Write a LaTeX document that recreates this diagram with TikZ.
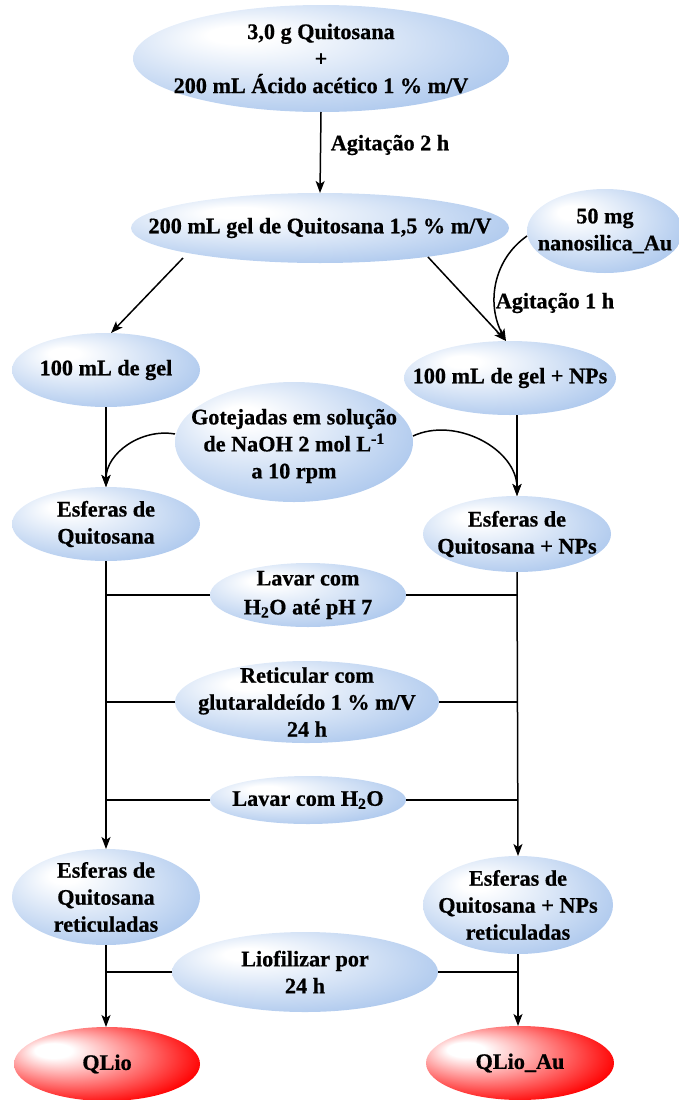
\documentclass[tikz,border=0pt]{standalone}
\usepackage{fontspec}
\setmainfont{Liberation Serif}[BoldFeatures={FakeBold=0.6}]
\usetikzlibrary{shapes.geometric,arrows.meta,calc}
\definecolor{bluec}{RGB}{140,178,230}
\definecolor{redc}{RGB}{255,0,0}
\pgfdeclareradialshading{blueball}{\pgfpoint{-12bp}{12bp}}{color(0bp)=(white); color(4bp)=(white); color(36bp)=(bluec!80!white); color(50bp)=(bluec)}
\pgfdeclareradialshading{redball}{\pgfpoint{-16bp}{10bp}}{color(0bp)=(white); color(5bp)=(white); color(32bp)=(redc); color(50bp)=(redc)}
\tikzset{
  ell/.style 2 args={ellipse, inner sep=0pt, outer sep=0pt, minimum width=#1pt, minimum height=#2pt, shading=blueball},
  rell/.style 2 args={ellipse, inner sep=0pt, outer sep=0pt, minimum width=#1pt, minimum height=#2pt, shading=redball},
  txt/.style={align=center, inner sep=0pt, font=\fontsize{22.2}{27}\selectfont\bfseries},
  conn/.style={line width=1.5pt},
  arr/.style={line width=1.5pt, -{Stealth[length=12pt,width=9pt,inset=3pt]}}
}
\begin{document}
\begin{tikzpicture}[x=1pt,y=1pt]
\useasboundingbox (0,0) rectangle (678,-1100);
% ellipses
\node[ell={376}{107}] (top) at (321,-58.5) {};
\node[txt] (topt) at (top) {3,0 g Quitosana\\+\\200 mL Ácido acético 1 \% m/V};
\node[ell={378}{70}] (gel) at (320,-228) {};
\node[txt] (gelt) at (gel) {200 mL gel de Quitosana 1,5 \% m/V};
\node[ell={156}{84}] (nano) at (605,-231) {};
\node[txt] (nanot) at (nano) {50 mg\\nanosilica\_Au};
\node[ell={188}{74}] (g100) at (106,-370) {};
\node[txt] (g100t) at (g100) {100 mL de gel};
\node[ell={212}{74}] (g100np) at (510,-378) {};
\node[txt] (g100npt) at (g100np) {100 mL de gel + NPs};
\node[ell={238}{120}] (got) at (294,-442) {};
\node[txt] (gott) at ([yshift=-4pt]got.center) {Gotejadas em solução\\de NaOH 2 mol L\textsuperscript{-1}\\a 10 rpm};
\node[ell={188}{74}] (esfL) at (106,-524) {};
\node[txt] (esfLt) at (esfL) {Esferas de\\Quitosana};
\node[ell={188}{76}] (esfR) at (517,-534) {};
\node[txt] (esfRt) at (esfR) {Esferas de\\Quitosana + NPs};
\node[ell={196}{64}] (lav1) at (308,-595) {};
\node[txt] (lav1t) at (lav1) {Lavar com\\[2pt]H\textsubscript{2}O até pH 7};
\node[ell={264}{82}] (ret) at (307,-702) {};
\node[txt] (rett) at (ret) {Reticular com\\glutaraldeído 1 \% m/V\\24 h};
\node[ell={196}{48}] (lav2) at (308,-800) {};
\node[txt] (lav2t) at (lav2) {Lavar com H\textsubscript{2}O};
\node[ell={188}{96}] (retL) at (106,-897) {};
\node[txt] (retLt) at (retL) {Esferas de\\Quitosana\\reticuladas};
\node[ell={190}{98}] (retR) at (518,-905) {};
\node[txt] (retRt) at (retR) {Esferas de\\Quitosana + NPs\\reticuladas};
\node[ell={266}{80}] (lio) at (305,-972) {};
\node[txt] (liot) at (lio) {Liofilizar por\\24 h};
\node[rell={186}{74}] (qlio) at (107,-1064) {};
\node[txt] (qliot) at (qlio) {QLio};
\node[rell={188}{74}] (qlioau) at (520,-1063) {};
\node[txt] (qlioaut) at (qlioau) {QLio\_Au};
% labels
\node[txt] (ag2) at (390,-145) {Agitação 2 h};
\node[txt] (ag1) at (555,-303) {Agitação 1 h};
% connectors
\draw[arr] (top.south) -- (gel.north);
\draw[arr] ([xshift=-137pt,yshift=5pt]gel.south) -- ([xshift=5pt]g100.north);
\draw[arr] ([xshift=108pt,yshift=6pt]gel.south) -- ([xshift=-4pt]g100np.north);
\draw[arr] ([yshift=-5pt]nano.west) to[out=215, in=118] ([xshift=-4pt]g100np.north);
\draw[arr] (g100.south) -- (esfL.north);
\draw[arr] ([yshift=8pt]got.west) to[out=170, in=90] (esfL.north);
\draw[arr] (g100np.south -| esfR.north) -- (esfR.north);
\draw[arr] ([yshift=6pt]got.east) to[out=25, in=90] (esfR.north);
\draw[arr] (esfL.south) -- (retL.north);
\draw[arr] (esfR.south) -- (retR.north);
\draw[conn] (lav1.west) -- (lav1.west -| esfL.south);
\draw[conn] (lav1.east) -- (lav1.east -| esfR.south);
\draw[conn] (ret.west) -- (ret.west -| esfL.south);
\draw[conn] (ret.east) -- (ret.east -| esfR.south);
\draw[conn] (lav2.west) -- (lav2.west -| esfL.south);
\draw[conn] (lav2.east) -- (lav2.east -| esfR.south);
\draw[arr] (retL.south) -- (retL.south |- qlio.north);
\draw[arr] (retR.south) -- (retR.south |- qlioau.north);
\draw[conn] (lio.west) -- (lio.west -| retL.south);
\draw[conn] (lio.east) -- (lio.east -| retR.south);
\end{tikzpicture}
\end{document}
